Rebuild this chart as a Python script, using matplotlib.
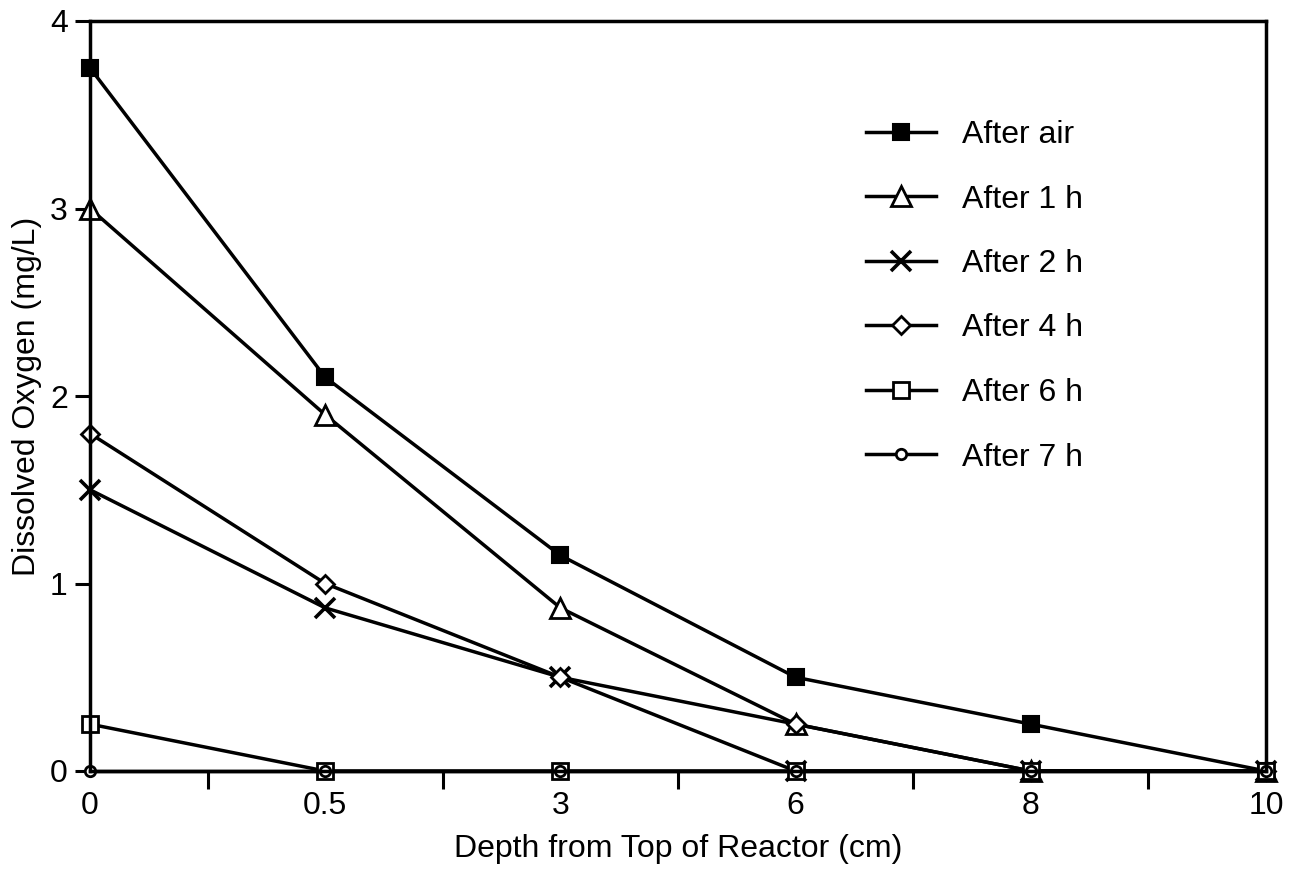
import matplotlib
matplotlib.use("Agg")
import matplotlib.pyplot as plt

plt.rcParams['font.family'] = ['Liberation Sans', 'DejaVu Sans']

depth_labels = ["0", "0.5", "3", "6", "8", "10"]
after_air = [3.75, 2.1, 1.15, 0.5, 0.25, 0.0]
after_1h = [3.0, 1.9, 0.87, 0.25, 0.0, 0.0]
after_2h = [1.5, 0.87, 0.5, 0.0, 0.0, 0.0]
after_4h = [1.8, 1.0, 0.5, 0.25, 0.0, 0.0]
after_6h = [0.25, 0.0, 0.0, 0.0, 0.0, 0.0]
after_7h = [0.0, 0.0, 0.0, 0.0, 0.0, 0.0]
series_labels = ["After air", "After 1 h", "After 2 h", "After 4 h", "After 6 h", "After 7 h"]

W, H = 1296, 875
L, R, T, B = 90, 1266, 21, 771
fig = plt.figure(figsize=(W/100, H/100), dpi=100)
ax = fig.add_axes([L/W, 1-B/H, (R-L)/W, (B-T)/H])

x = list(range(len(depth_labels)))
styles = [
    dict(marker='s', ms=11, mfc='black', mec='black', mew=1.5),
    dict(marker='^', ms=14, mfc='white', mec='black', mew=2.0),
    dict(marker='x', ms=14, mfc='black', mec='black', mew=2.6),
    dict(marker='D', ms=9, mfc='white', mec='black', mew=2.0),
    dict(marker='s', ms=11, mfc='white', mec='black', mew=2.0),
    dict(marker='o', ms=7.5, mfc='white', mec='black', mew=2.0),
]
data = [after_air, after_1h, after_2h, after_4h, after_6h, after_7h]
for vals, lab, st in zip(data, series_labels, styles):
    ax.plot(x, vals, color='black', lw=2.5, label=lab, clip_on=False, **st)

fs = 23
ax.set_xlim(0, len(x) - 1)
ax.set_ylim(0, 4)
ax.set_xticks(x)
ax.set_xticklabels(depth_labels)
ax.set_xticks([i + 0.5 for i in range(len(x) - 1)], minor=True)
ax.tick_params(axis='x', which='major', length=0, pad=14.5, labelsize=fs)
ax.tick_params(axis='x', which='minor', length=13, width=2.2, direction='out')
ax.set_yticks([0, 1, 2, 3, 4])
ax.tick_params(axis='y', which='major', length=11, width=2.2, direction='out', pad=5, labelsize=fs)
for s in ax.spines.values():
    s.set_linewidth(2.5)

ax.set_xlabel("Depth from Top of Reactor (cm)", fontsize=fs, labelpad=9.5)
ax.set_ylabel("Dissolved Oxygen (mg/L)", fontsize=fs, labelpad=6)

leg = ax.legend(loc='upper left', bbox_to_anchor=((866-L)/(R-L), (B-120)/(B-T)),
                frameon=False, borderpad=0, borderaxespad=0,
                fontsize=fs, handlelength=2.2, labelspacing=1.08, handletextpad=0.8)

fig.savefig("out.png", dpi=100)
